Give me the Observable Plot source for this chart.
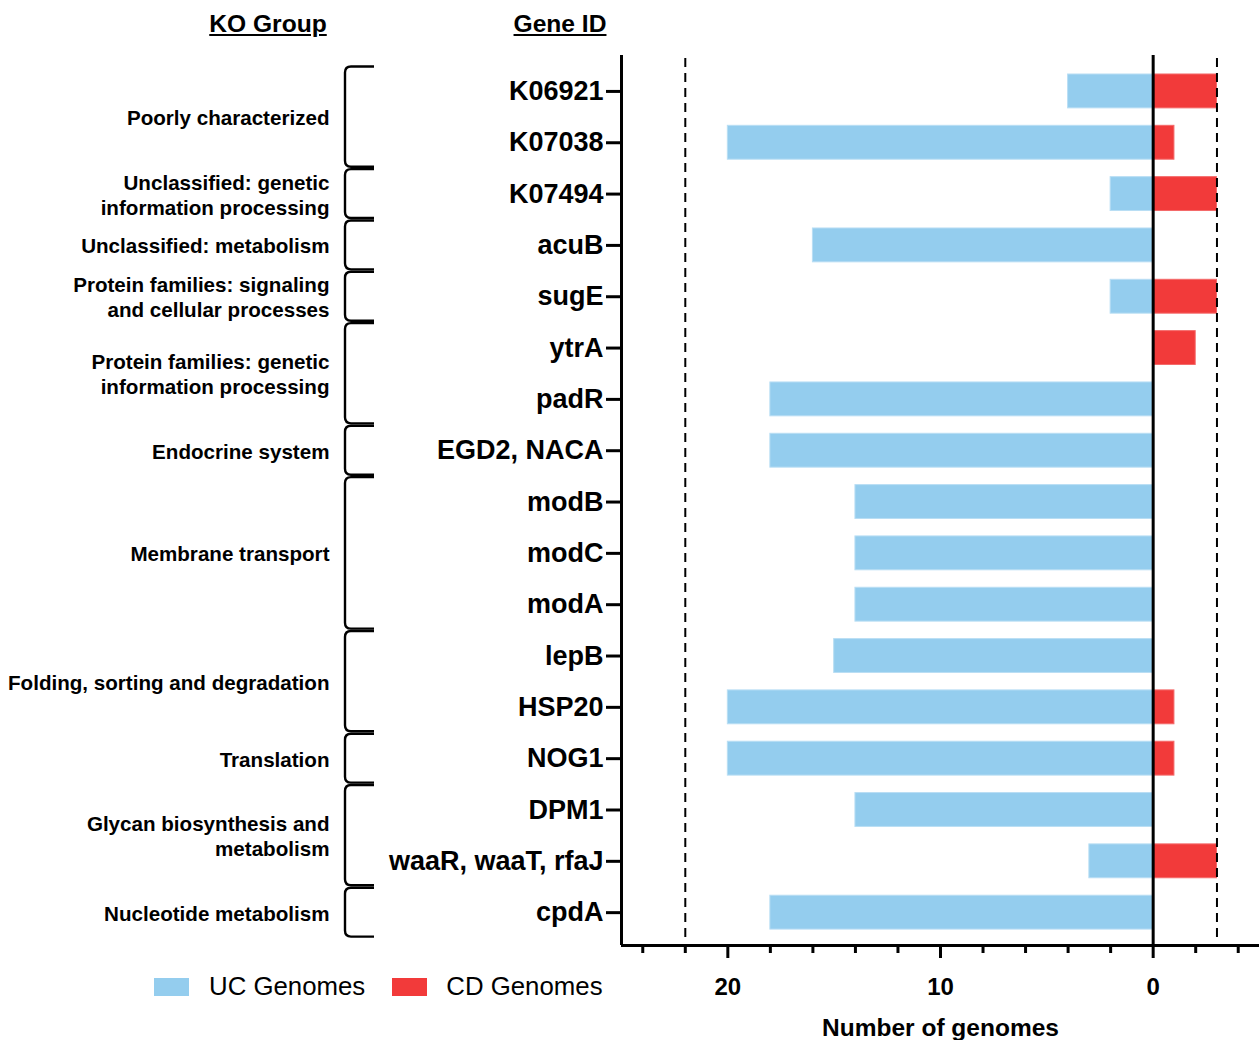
<!DOCTYPE html>
<html>
<head>
<meta charset="utf-8">
<script src="https://cdn.jsdelivr.net/npm/d3@7"></script>
<script src="https://cdn.jsdelivr.net/npm/@observablehq/plot@0.6"></script>
<style>
  html, body { margin: 0; padding: 0; background: #fff; }
  #wrap { position: relative; width: 1259px; height: 1040px; font-family: "Liberation Sans", Arial, sans-serif; color: #000; }
  .hdr { position: absolute; top: 10px; font-size: 24.6px; font-weight: bold; text-decoration: underline; transform: translateX(-50%); white-space: nowrap; }
  .legend { position: absolute; top: 972px; left: 154px; display: flex; align-items: center; font-size: 25.8px; white-space: nowrap; }
  .sw { width: 35px; height: 18px; display: inline-block; }
</style>
</head>
<body>
<div id="wrap">
  <div class="hdr" style="left:268px">KO Group</div>
  <div class="hdr" style="left:560px">Gene ID</div>
  <div id="chart" style="position:absolute;left:0;top:0"></div>
  <div class="legend">
    <span class="sw" style="background:#94cdee"></span><span style="margin-left:20px;margin-right:27px">UC Genomes</span>
    <span class="sw" style="background:#f23a3a"></span><span style="margin-left:19px">CD Genomes</span>
  </div>
</div>
<script>
// ---- data ----
const genes = ["K06921", "K07038", "K07494", "acuB", "sugE", "ytrA", "padR", "EGD2, NACA",
  "modB", "modC", "modA", "lepB", "HSP20", "NOG1", "DPM1", "waaR, waaT, rfaJ", "cpdA"];
const ucGenomes = [4, 20, 2, 16, 2, 0, 18, 18, 14, 14, 14, 15, 20, 20, 14, 3, 18];
const cdGenomes = [3, 1, 3, 0, 3, 2, 0, 0, 0, 0, 0, 0, 1, 1, 0, 3, 0];
const groupNames = ["Poorly characterized", "Unclassified: genetic\ninformation processing",
  "Unclassified: metabolism", "Protein families: signaling\nand cellular processes",
  "Protein families: genetic\ninformation processing", "Endocrine system", "Membrane transport",
  "Folding, sorting and degradation", "Translation", "Glycan biosynthesis and\nmetabolism",
  "Nucleotide metabolism"];
const groupFirst = [0, 2, 3, 4, 5, 7, 8, 11, 13, 14, 16];
const groupLast  = [1, 2, 3, 4, 6, 7, 10, 12, 13, 15, 16];
const ucThreshold = 22;
const cdThreshold = 3;
const majorTicks = [20, 10, 0];
const minorTicks = [24, 22, 18, 16, 14, 12, 8, 6, 4, 2, -2, -4];

// ---- table ----
const rows = genes.map((g, i) => ({gene: g, i, uc: ucGenomes[i], cd: cdGenomes[i]}));
const groups = groupNames.map((name, k) => ({name, first: groupFirst[k], last: groupLast[k],
  mid: (groupFirst[k] + groupLast[k]) / 2}));

const xDomain = [25, -5];
const yDomain = [-0.7, 16.64];
const half = 0.33;
const blue = "#94cdee", red = "#f23a3a";

const brackets = (index, scales) => {
  const g = d3.create("svg:g").attr("fill", "none").attr("stroke", "black").attr("stroke-width", 2.4);
  const X = 345, H = 374, r = 6;
  for (const grp of groups) {
    const a = scales.y(grp.first - 0.5) + 1.2;
    const b = scales.y(grp.last + 0.5) - 1.2;
    g.append("path").attr("d",
      `M${H},${a} L${X + r},${a} Q${X},${a} ${X},${a + r} L${X},${b - r} Q${X},${b} ${X + r},${b} L${H},${b}`);
  }
  return g.node();
};

const chart = Plot.plot({
  width: 1259,
  height: 1040,
  marginLeft: 621,
  marginRight: 0,
  marginTop: 55,
  marginBottom: 95,
  style: {fontFamily: "'Liberation Sans', Arial, sans-serif", color: "black", background: "transparent"},
  x: {domain: xDomain, range: [621, 1259]},
  y: {domain: yDomain, reverse: true},
  marks: [
    Plot.rectX(rows, {x1: 0, x2: "uc", y1: d => d.i - half, y2: d => d.i + half, fill: blue, stroke: "#b9def4", strokeWidth: 1}),
    Plot.rectX(rows.filter(d => d.cd > 0), {x1: 0, x2: d => -d.cd, y1: d => d.i - half, y2: d => d.i + half, fill: red, stroke: "#f46a6a", strokeWidth: 1}),
    Plot.ruleX([ucThreshold, -cdThreshold], {stroke: "black", strokeWidth: 2, strokeDasharray: "9,6", insetTop: 3, insetBottom: 4}),
    Plot.ruleX([0], {stroke: "black", strokeWidth: 3}),
    Plot.ruleX([xDomain[0]], {stroke: "black", strokeWidth: 3}),
    Plot.ruleY([yDomain[1]], {stroke: "black", strokeWidth: 3}),
    Plot.axisY({ticks: d3.range(genes.length), tickFormat: i => genes[i], tickSize: 15, tickPadding: 3,
      strokeWidth: 3, fontSize: 27, fontWeight: "bold", label: null}),
    Plot.axisX({ticks: majorTicks, tickSize: 13, tickPadding: 19, strokeWidth: 3, fontSize: 24,
      fontWeight: "bold", label: null}),
    Plot.axisX({ticks: minorTicks, tickSize: 8, strokeWidth: 3, fill: "none", label: null}),
    Plot.text(["Number of genomes"], {frameAnchor: "bottom", dy: 90, fontSize: 24.5, fontWeight: "bold"}),
    Plot.text(groups, {y: "mid", text: "name", frameAnchor: "left", dx: -292, textAnchor: "end",
      fontSize: 20.6, fontWeight: "bold", lineHeight: 1.22}),
    brackets
  ]
});
document.getElementById("chart").appendChild(chart);
</script>
</body>
</html>
